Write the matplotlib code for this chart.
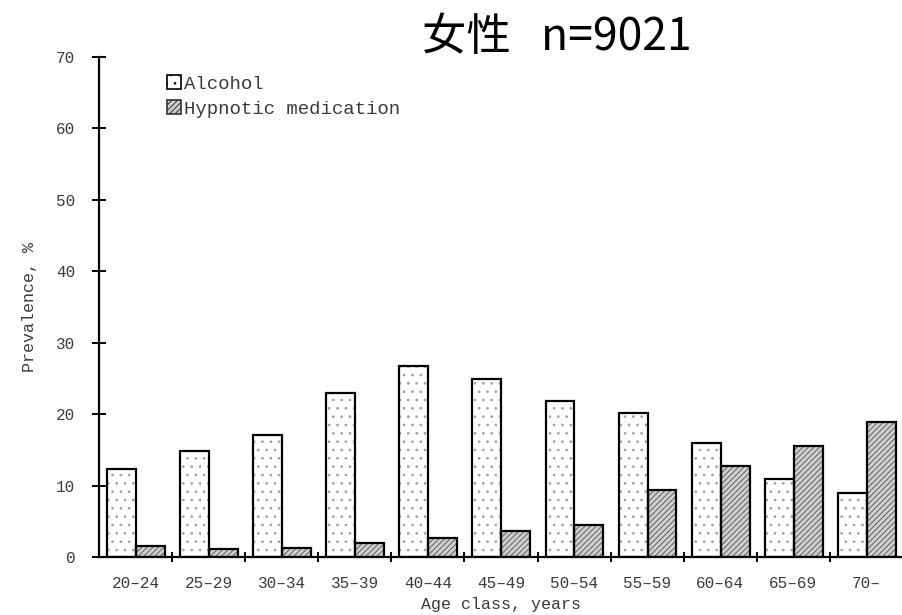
import numpy as np
import matplotlib
matplotlib.use("Agg")
import matplotlib.pyplot as plt
from matplotlib.patches import Patch

# prevalence (%) by age class, women
age_classes = ["20–24", "25–29", "30–34", "35–39", "40–44", "45–49",
               "50–54", "55–59", "60–64", "65–69", "70–"]
alcohol = [12.3, 14.9, 17.1, 23.0, 26.7, 24.9, 21.9, 20.1, 16.0, 10.9, 8.9]
hypnotic = [1.6, 1.1, 1.3, 2.0, 2.7, 3.6, 4.5, 9.4, 12.7, 15.5, 18.9]
series_names = ["Alcohol", "Hypnotic medication"]
title = "女性   n=9021"

plt.rcParams["hatch.linewidth"] = 0.7
label_font = "Liberation Mono"
text_color = "#3a3a3a"

fig = plt.figure(figsize=(9.03, 6.15), dpi=100)
ax = fig.add_axes([99 / 903, 58 / 615, 804 / 903, 500 / 615])

x = np.arange(len(age_classes))
w = 0.395

# fills with patterns (light hatch colour), then black outlines on top
ax.bar(x + 0.11, alcohol, w, align="edge", color="white", hatch="..",
       edgecolor="#a0a0a0", linewidth=0)
ax.bar(x + 0.11 + w, hypnotic, w, align="edge", color="#cfcfcf", hatch="//////",
       edgecolor="#606060", linewidth=0)
ax.bar(x + 0.11, alcohol, w, align="edge", fill=False, edgecolor="black", linewidth=1.6)
ax.bar(x + 0.11 + w, hypnotic, w, align="edge", fill=False, edgecolor="black", linewidth=1.6)

ax.set_xlim(0, len(age_classes))
ax.set_ylim(0, 70)

for s in ["top", "right"]:
    ax.spines[s].set_visible(False)
for s in ["left", "bottom"]:
    ax.spines[s].set_linewidth(1.6)

ax.set_yticks(np.arange(0, 71, 10))
ax.tick_params(axis="y", direction="inout", length=10, width=1.4, pad=12,
               labelsize=11.5, labelcolor=text_color)
ax.set_xticks(np.arange(1, len(age_classes)))
ax.set_xticklabels([])
ax.tick_params(axis="x", which="major", direction="inout", length=7, width=1.4)
ax.set_xticks(x + 0.5, minor=True)
ax.set_xticklabels(age_classes, minor=True)
ax.tick_params(axis="x", which="minor", length=0, pad=14, labelsize=11.5,
               labelcolor=text_color)
for lbl in ax.get_yticklabels() + ax.get_xticklabels(minor=True):
    lbl.set_family(label_font)

ax.set_ylabel("Prevalence, %", family=label_font, fontsize=12, color=text_color,
              labelpad=14)
ax.set_xlabel("Age class, years", family=label_font, fontsize=12, color=text_color,
              labelpad=4)

handles = [
    Patch(facecolor="white", edgecolor="black", hatch="..", linewidth=1.2),
    Patch(facecolor="#cfcfcf", edgecolor="#333333", hatch="//////", linewidth=1.2),
]
ax.legend(handles, series_names, loc="upper left", bbox_to_anchor=(0.075, 0.979),
          frameon=False, handlelength=0.75, handleheight=0.75, handletextpad=0.15,
          labelspacing=0.4, borderaxespad=0,
          prop={"family": label_font, "size": 13.7})
for t in ax.get_legend().get_texts():
    t.set_color(text_color)

fig.text(0.617, 0.94, title, ha="center", va="center", fontsize=32,
         family=["Noto Sans CJK SC", "DejaVu Sans"])

fig.savefig("out.png", dpi=100)
